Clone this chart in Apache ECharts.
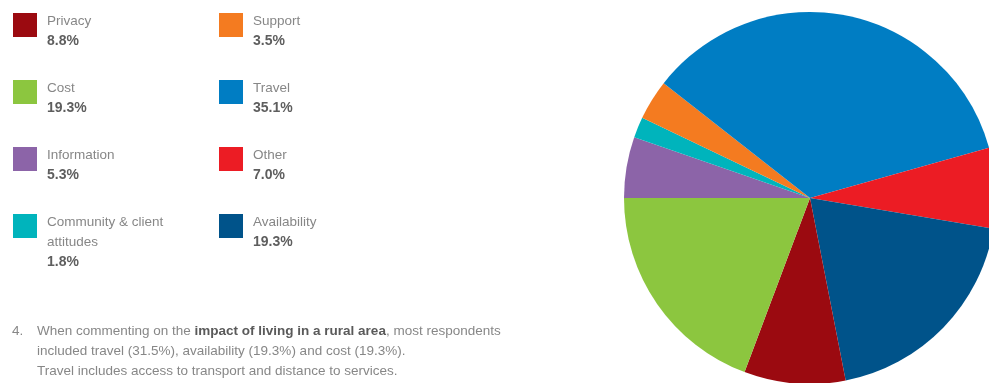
<!DOCTYPE html>
<html>
<head>
<meta charset="utf-8">
<script src="https://cdn.jsdelivr.net/npm/echarts@6/dist/echarts.min.js"></script>
<style>
  html, body { margin: 0; padding: 0; background: #ffffff; }
  #chart { width: 989px; height: 383px; }
</style>
</head>
<body>
<div id="chart"></div>
<script>
// Pie slices, in drawing order (clockwise from the 9 o'clock position)
const categories = ['Information', 'Community & client attitudes', 'Support', 'Travel', 'Other', 'Availability', 'Privacy', 'Cost'];
const values = [5.3, 1.8, 3.5, 35.1, 7.0, 19.3, 8.8, 19.3];
const colors = ['#8c64a8', '#00b4bc', '#f47b20', '#007dc3', '#ec1c24', '#00538a', '#9b0a10', '#8cc63f'];

// Legend grid: two columns, four rows
const legendColumns = [
  ['Privacy', 'Cost', 'Information', 'Community & client attitudes'],
  ['Support', 'Travel', 'Other', 'Availability']
];
// Wrapped display names for the legend
const legendNames = {
  'Community & client attitudes': 'Community & client\nattitudes'
};

const noteNumber = '4.';
const noteLines = [
  [['n', 'When commenting on the '], ['b', 'impact of living in a rural area'], ['n', ', most respondents']],
  [['n', 'included travel (31.5%), availability (19.3%) and cost (19.3%).']],
  [['n', 'Travel includes access to transport and distance to services.']]
];

const chart = echarts.init(document.getElementById('chart'), null, { renderer: 'canvas' });

const FONT = 'Arial, "Liberation Sans", Helvetica, sans-serif';
const ICON = 24;
const LINE = 20;
const colX = [13, 219];
const rowTop = [13, 80, 147, 214];

const legends = [];
legendColumns.forEach((col, ci) => {
  col.forEach((name, ri) => {
    const idx = categories.indexOf(name);
    const shown = legendNames[name] || name;
    const nameLines = shown.split('\n');
    const n = nameLines.length + 1;
    const spacer = LINE * n - 28;
    const blockH = spacer + LINE * n;
    const text = '{s| }\n' + nameLines.map(l => '{n|' + l + '}').join('\n') + '\n{v|' + values[idx].toFixed(1) + '%}';
    legends.push({
      data: [name],
      left: colX[ci],
      top: rowTop[ri] - (blockH / 2 - ICON / 2),
      padding: 0,
      itemWidth: ICON,
      itemHeight: ICON,
      itemGap: 0,
      icon: 'rect',
      selectedMode: false,
      formatter: () => text,
      textStyle: {
        fontFamily: FONT,
        rich: {
          s: { fontSize: 1, lineHeight: spacer, height: spacer },
          n: { fontSize: 13.5, lineHeight: LINE, color: '#878787', fontFamily: FONT, padding: [0, 0, 0, 5] },
          v: { fontSize: 14, lineHeight: LINE, color: '#5e5e5e', fontWeight: 'bold', fontFamily: FONT, padding: [0, 0, 0, 5] }
        }
      }
    });
  });
});

const noteRich = {
  n: { fontSize: 13.5, fill: '#878787', fontFamily: FONT, lineHeight: LINE },
  b: { fontSize: 13.5, fill: '#5a5a5a', fontWeight: 'bold', fontFamily: FONT, lineHeight: LINE }
};

chart.setOption({
  animation: false,
  backgroundColor: '#ffffff',
  color: colors,
  legend: legends,
  graphic: [
    {
      type: 'text', left: 12, top: 324,
      style: { text: '{n|' + noteNumber + '}', fill: '#878787', fontSize: 13.5, fontFamily: FONT, rich: noteRich }
    },
    {
      type: 'text', left: 37, top: 324,
      style: {
        text: noteLines.map(line => line.map(([k, t]) => '{' + k + '|' + t + '}').join('')).join('\n'),
        fill: '#878787',
        fontSize: 13.5,
        fontFamily: FONT,
        rich: noteRich
      }
    }
  ],
  series: [{
    type: 'pie',
    center: [810, 198],
    radius: 186,
    startAngle: 180,
    clockwise: true,
    label: { show: false },
    labelLine: { show: false },
    emphasis: { disabled: true },
    itemStyle: { borderWidth: 0 },
    data: categories.map((c, i) => ({ name: c, value: values[i] }))
  }]
});
</script>
</body>
</html>
